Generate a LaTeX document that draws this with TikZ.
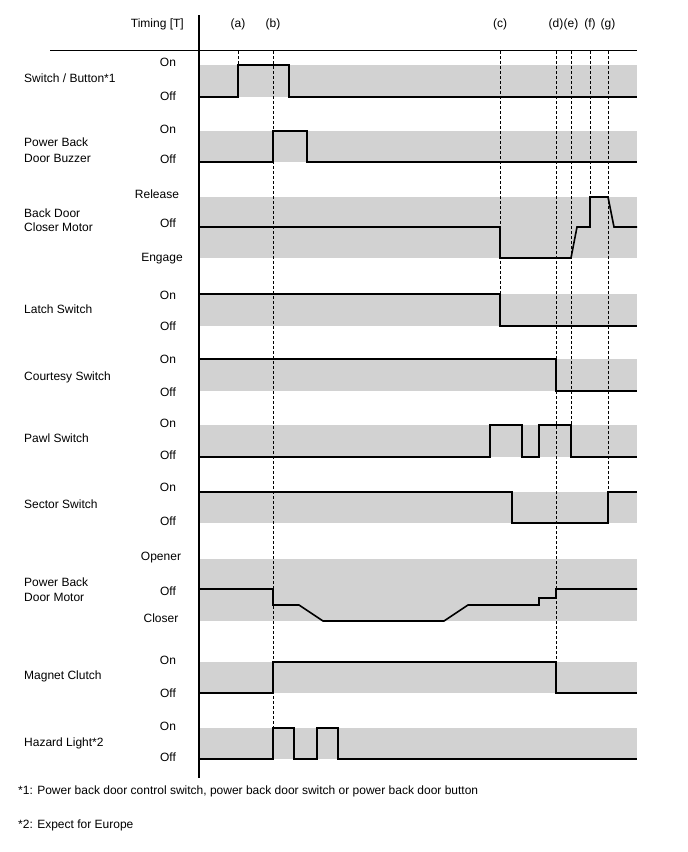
\documentclass[tikz,border=0pt]{standalone}
\usepackage{fontspec}
\setmainfont{Liberation Sans}
\definecolor{bandgray}{RGB}{210,210,210}
\begin{document}
\begin{tikzpicture}[x=1pt,y=-1pt,
  txt/.style={font=\fontsize{12}{14}\selectfont, inner sep=0pt, anchor=base},
  lbl/.style={txt, anchor=base west},
  band/.style={fill=bandgray, draw=none},
  sig/.style={line width=1.6pt, line join=miter},
  tickline/.style={line width=1pt, dash pattern=on 3pt off 2pt},
  axisline/.style={line width=1.5pt}]
\useasboundingbox (0,0) rectangle (688,852);

% grey bands
\fill[band] (199,65) rectangle (637,97);
\fill[band] (199,131) rectangle (637,162);
\fill[band] (199,197) rectangle (637,258);
\fill[band] (199,294) rectangle (637,326);
\fill[band] (199,359) rectangle (637,391);
\fill[band] (199,425) rectangle (637,457);
\fill[band] (199,492) rectangle (637,523);
\fill[band] (199,559) rectangle (637,621);
\fill[band] (199,662) rectangle (637,693);
\fill[band] (199,728) rectangle (637,759);

% axes
\coordinate (axtop) at (199,15);
\coordinate (axbot) at (199,778);
\coordinate (hl) at (50,50.5);
\coordinate (hr) at (637,50.5);
\draw[axisline] (axtop) -- (axbot);
\draw[axisline] (hl) -- (hr);

% timing marks
\foreach \n/\x/\y in {a/238/65, b/273/728, c/500/294, d/556/662, e/571/425, f/590/197, g/608/492}{
  \node[txt] (t\n) at (\x,27) {(\n)};
  \coordinate (s\n) at (\x,51);
  \coordinate (e\n) at (\x,\y);
  \draw[tickline] (s\n) -- (e\n);
}
\node[txt, anchor=base east] (timing) at (184,27) {Timing [T]};

% signals
\draw[sig] (199,97) -- (238,97) -- (238,65) -- (289,65) -- (289,97) -- (637,97);
\draw[sig] (199,162) -- (273,162) -- (273,131) -- (307,131) -- (307,162) -- (637,162);
\draw[sig] (199,227) -- (500,227) -- (500,258) -- (571,258) -- (577,227) -- (590,227) -- (590,197) -- (608,197) -- (614,227) -- (637,227);
\draw[sig] (199,294) -- (500,294) -- (500,326) -- (637,326);
\draw[sig] (199,359) -- (556,359) -- (556,391) -- (637,391);
\draw[sig] (199,457) -- (490,457) -- (490,425) -- (522,425) -- (522,457) -- (539,457) -- (539,425) -- (571,425) -- (571,457) -- (637,457);
\draw[sig] (199,492) -- (512,492) -- (512,523) -- (608,523) -- (608,492) -- (637,492);
\draw[sig] (199,589) -- (273,589) -- (273,605) -- (299,605) -- (323,621) -- (444,621) -- (468,605) -- (539,605) -- (539,598) -- (556,598) -- (556,589) -- (637,589);
\draw[sig] (199,693) -- (273,693) -- (273,662) -- (556,662) -- (556,693) -- (637,693);
\draw[sig] (199,759) -- (273,759) -- (273,728) -- (294,728) -- (294,759) -- (317,759) -- (317,728) -- (338,728) -- (338,759) -- (637,759);

% row labels
\node[lbl] (l1) at (24,82.5) {Switch / Button*1};
\node[lbl] (l2a) at (24,146.5) {Power Back};
\node[lbl] (l2b) at (24,162.5) {Door Buzzer};
\node[lbl] (l3a) at (24,217.5) {Back Door};
\node[lbl] (l3b) at (24,231.5) {Closer Motor};
\node[lbl] (l4) at (24,313.5) {Latch Switch};
\node[lbl] (l5) at (24,380.5) {Courtesy Switch};
\node[lbl] (l6) at (24,442.5) {Pawl Switch};
\node[lbl] (l7) at (24,508.5) {Sector Switch};
\node[lbl] (l8a) at (24,586.5) {Power Back};
\node[lbl] (l8b) at (24,601.5) {Door Motor};
\node[lbl] (l9) at (24,679.5) {Magnet Clutch};
\node[lbl] (l10) at (24,746.5) {Hazard Light*2};

% level labels
\node[txt] (on1) at (168,66.5) {On};
\node[txt] (off1) at (168,100.5) {Off};
\node[txt] (on2) at (168,133.5) {On};
\node[txt] (off2) at (168,163.5) {Off};
\node[txt] (rel3) at (157,198.5) {Release};
\node[txt] (off3) at (168,227.5) {Off};
\node[txt] (eng3) at (162,261.5) {Engage};
\node[txt] (on4) at (168,299.5) {On};
\node[txt] (off4) at (168,330.5) {Off};
\node[txt] (on5) at (168,363.5) {On};
\node[txt] (off5) at (168,396.5) {Off};
\node[txt] (on6) at (168,427.5) {On};
\node[txt] (off6) at (168,459.5) {Off};
\node[txt] (on7) at (168,491.5) {On};
\node[txt] (off7) at (168,525.5) {Off};
\node[txt] (op8) at (161,560.5) {Opener};
\node[txt] (off8) at (168,595.5) {Off};
\node[txt] (cl8) at (161,622.5) {Closer};
\node[txt] (on9) at (168,664.5) {On};
\node[txt] (off9) at (168,697.5) {Off};
\node[txt] (on10) at (168,730.5) {On};
\node[txt] (off10) at (168,761.5) {Off};

% footnotes
\node[lbl] (fn1) at (18,794.5) {*1: Power back door control switch, power back door switch or power back door button};
\node[lbl] (fn2) at (18,828.5) {*2: Expect for Europe};
\end{tikzpicture}
\end{document}
